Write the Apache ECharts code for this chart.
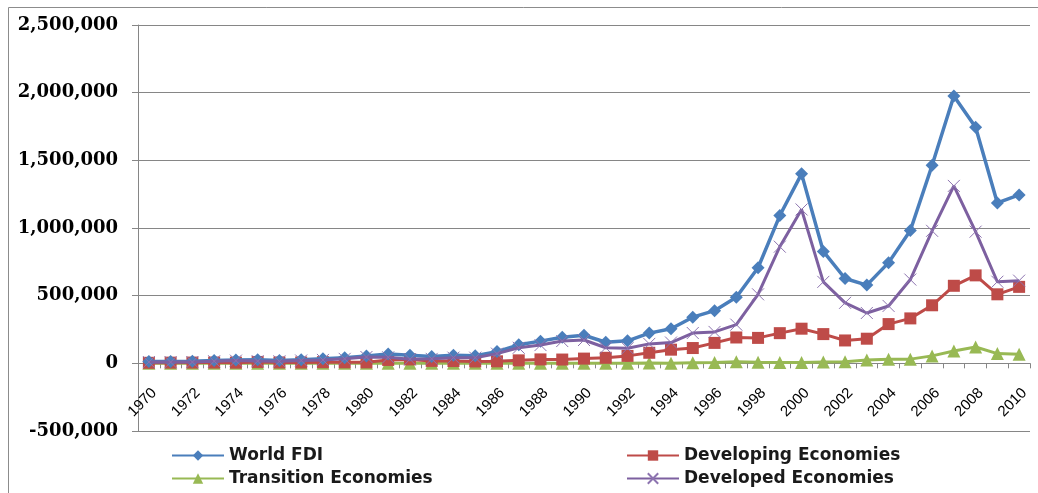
<!DOCTYPE html>
<html>
<head>
    <meta charset="utf-8">
    <script src="https://cdn.jsdelivr.net/npm/echarts@6/dist/echarts.min.js"></script>
    <style>
        body { margin: 0; background: #fff; }
        #main { width: 1038px; height: 493px; }
    </style>
</head>
<body>
    <div id="main"></div>
    <script>
        // years 1970 - 2010
        var years = [];
        for (var y = 1970; y <= 2010; y++) years.push(String(y));

        // FDI inflows, millions of US$
        var worldFdi = [13346, 14165, 15224, 21421, 25179, 26565, 21542, 27069, 33784, 40745,
            54077, 69418, 58878, 50994, 58940, 55860, 86629, 136937, 164019, 192744,
            207455, 155924, 166473, 223397, 256000, 341000, 389000, 488000, 706000, 1092000,
            1400000, 827000, 627000, 578000, 744000, 982000, 1463000, 1975000, 1744000, 1185000,
            1244000];
        var developing = [3860, 5100, 5600, 6000, 5100, 10200, 6500, 6200, 8700, 7800,
            7500, 25000, 29000, 18000, 17000, 14000, 15000, 22000, 29000, 28000,
            35000, 41000, 55000, 78000, 101000, 113000, 151000, 191000, 188000, 223000,
            256000, 216000, 169000, 182000, 290000, 332000, 429000, 573000, 650000, 510000,
            565000];
        var transition = [0, 0, 0, 0, 0, 0, 0, 0, 0, 0,
            0, 0, 0, 0, 0, 0, 0, 0, 0, 0,
            0, 0, 100, 1700, 1200, 4000, 6000, 11000, 8000, 7000,
            7000, 9000, 11000, 24000, 30000, 31000, 55000, 91000, 121000, 72000,
            68000];
        var developed = [9500, 9000, 9600, 15400, 20100, 16400, 15000, 20900, 25100, 33000,
            46600, 44400, 29900, 33000, 41900, 41900, 71600, 115000, 135000, 164700,
            172400, 114900, 111400, 143700, 153800, 224000, 232000, 286000, 510000, 862000,
            1137000, 602000, 447000, 372000, 424000, 619000, 979000, 1311000, 973000, 603000,
            611000];

        var myChart = echarts.init(document.getElementById('main'));

        var legendText = { fontFamily: 'DejaVu Sans', fontSize: 17, fontWeight: 'bold', color: '#1a1a1a' };

        var option = {
            animation: false,
            backgroundColor: '#fff',
            graphic: [{
                type: 'rect',
                shape: { x: 8.5, y: 7.5, width: 1040, height: 500 },
                style: { fill: 'none', stroke: '#8c8c8c', lineWidth: 1 },
                silent: true
            }],
            grid: { left: 138, right: 8, top: 25, bottom: 62 },
            legend: [{
                left: 166, top: 442, orient: 'vertical', itemGap: 6,
                itemWidth: 52, itemHeight: 13,
                data: ['World FDI', 'Transition Economies'],
                textStyle: legendText
            }, {
                left: 621, top: 442, orient: 'vertical', itemGap: 6,
                itemWidth: 52, itemHeight: 13,
                data: ['Developing Economies', 'Developed Economies'],
                textStyle: legendText
            }],
            xAxis: {
                type: 'category',
                data: years,
                boundaryGap: true,
                // the axis sits on the zero line, 1/6 of the plot height above the bottom
                offset: -67.67,
                axisLine: { onZero: false, lineStyle: { color: '#868686' } },
                axisTick: { show: true, interval: 0, length: 5, lineStyle: { color: '#868686' } },
                axisLabel: {
                    interval: 1, rotate: 45, fontSize: 15, margin: 22,
                    verticalAlign: 'top',
                    fontFamily: 'Liberation Sans', color: '#000'
                }
            },
            yAxis: {
                type: 'value',
                min: -500000, max: 2500000, interval: 500000,
                axisLine: { show: true, lineStyle: { color: '#868686' } },
                axisTick: { show: true, length: 6, lineStyle: { color: '#868686' } },
                splitLine: { lineStyle: { color: '#868686', width: 1 } },
                axisLabel: {
                    margin: 20, fontSize: 18, fontWeight: 'bold',
                    fontFamily: 'DejaVu Serif', color: '#000',
                    formatter: function (v) { return v.toLocaleString('en-US'); }
                }
            },
            series: [{
                name: 'World FDI', type: 'line', data: worldFdi,
                symbol: 'diamond', symbolSize: 13,
                lineStyle: { width: 3.5, color: '#4A7EBB' },
                itemStyle: { color: '#4A7EBB' }, z: 4
            }, {
                name: 'Developing Economies', type: 'line', data: developing,
                symbol: 'rect', symbolSize: 12,
                lineStyle: { width: 3, color: '#BE4B48' },
                itemStyle: { color: '#BE4B48' }, z: 3
            }, {
                name: 'Transition Economies', type: 'line', data: transition,
                symbol: 'triangle', symbolSize: 13,
                lineStyle: { width: 3, color: '#98B954' },
                itemStyle: { color: '#98B954' }, z: 2
            }, {
                name: 'Developed Economies', type: 'line', data: developed,
                symbol: 'path://M0,0L10,10M10,0L0,10', symbolSize: 12,
                lineStyle: { width: 3, color: '#7D60A0' },
                itemStyle: { color: 'none', borderColor: '#8D74B0', borderWidth: 1 }, z: 5
            }]
        };

        myChart.setOption(option);
    </script>
</body>
</html>
